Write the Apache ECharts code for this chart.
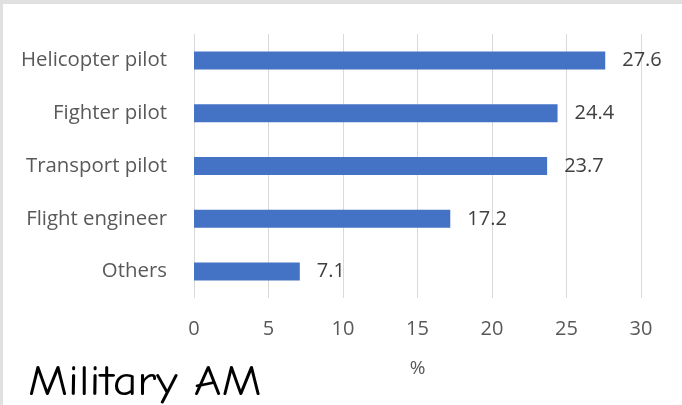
<!DOCTYPE html>
<html>
<head>
<meta charset="utf-8">
<script src="https://cdn.jsdelivr.net/npm/echarts@6/dist/echarts.min.js"></script>
<style>
html,body{margin:0;padding:0;background:#fff;}
#c{width:682px;height:405px;}
</style>
</head>
<body>
<div id="c"></div>
<script>
const categories = ["Helicopter pilot", "Fighter pilot", "Transport pilot", "Flight engineer", "Others"];
const values = [27.6, 24.4, 23.7, 17.2, 7.1];
const xTicks = [0, 5, 10, 15, 20, 25, 30];
const axisName = "%";
const caption = "Military AM";

const chart = echarts.init(document.getElementById('c'), null, {renderer: 'canvas'});
const FONT = '"Open Sans", "Noto Sans", sans-serif';
chart.setOption({
  animation: false,
  backgroundColor: '#ffffff',
  grid: {left: 194, right: 41, top: 34, bottom: 107, containLabel: false},
  xAxis: {
    type: 'value',
    min: xTicks[0],
    max: xTicks[xTicks.length - 1],
    interval: xTicks[1] - xTicks[0],
    name: axisName,
    nameLocation: 'middle',
    nameGap: 61,
    nameTextStyle: {fontFamily: FONT, fontSize: 19, color: '#595959'},
    axisLine: {show: false},
    axisTick: {show: false},
    axisLabel: {fontFamily: FONT, fontSize: 20, color: '#595959', margin: 21},
    splitLine: {show: true, lineStyle: {color: '#d9d9d9', width: 1}}
  },
  yAxis: {
    type: 'category',
    data: categories,
    inverse: true,
    axisLine: {show: false},
    axisTick: {show: false},
    axisLabel: {fontFamily: FONT, fontSize: 20.4, color: '#595959', margin: 27},
    splitLine: {show: false}
  },
  series: [{
    type: 'bar',
    data: values,
    barWidth: 18,
    itemStyle: {color: '#4472C4'},
    label: {
      show: true,
      position: 'right',
      distance: 17,
      fontFamily: FONT,
      fontSize: 20,
      color: '#404040',
      formatter: p => p.value.toFixed(1)
    }
  }],
  graphic: [
    {type: 'rect', left: 0, top: 0, shape: {width: 682, height: 4}, style: {fill: '#e0e0e0'}, silent: true},
    {type: 'rect', left: 0, top: 0, shape: {width: 3, height: 405}, style: {fill: '#e0e0e0'}, silent: true},
    {type: 'text', x: 28, y: 362, scaleX: 1.14, style: {text: caption, fontFamily: '"Comic Sans MS", "Comic Neue", cursive', fontSize: 42, fill: '#000000'}}
  ]
});
</script>
</body>
</html>
